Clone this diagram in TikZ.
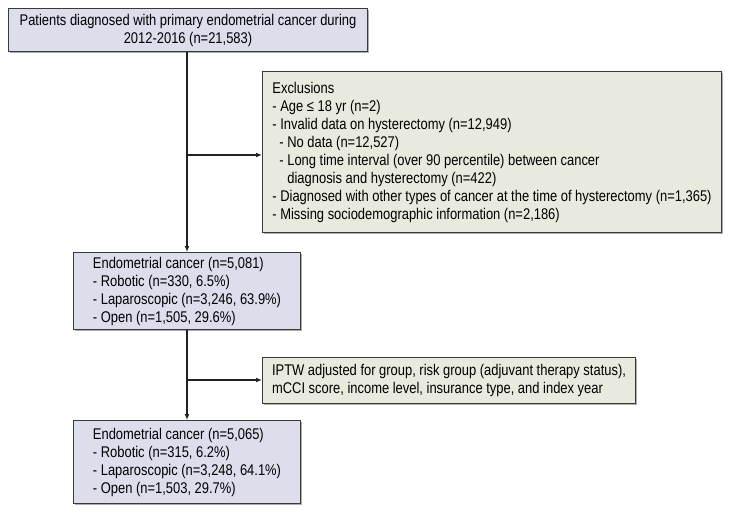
\documentclass[tikz,border=0pt]{standalone}
\usepackage{fontspec}
\setmainfont{Liberation Sans}[FakeStretch=0.835]
\usetikzlibrary{arrows.meta,shadows}
\definecolor{boxblue}{HTML}{DCDEEC}
\definecolor{boxgreen}{HTML}{E7EADC}
\definecolor{edge}{HTML}{3A3A3A}
\definecolor{linec}{HTML}{222222}
\begin{document}
\begin{tikzpicture}[x=1pt,y=-1pt,
  base/.style={draw=edge, line width=1pt, anchor=north west, inner sep=0pt,
    font=\fontsize{15.5}{18}\selectfont,
    drop shadow={shadow xshift=1.2pt, shadow yshift=-1.2pt, fill=black!40, opacity=0.8}},
  bluebox/.style={base, fill=boxblue},
  greenbox/.style={base, fill=boxgreen},
  conn/.style={draw=linec, line width=1.3pt},
  arr/.style={conn, -{Latex[length=6pt,width=5pt]}}
]
\useasboundingbox (0,0) rectangle (729,511);
\node[bluebox, align=center, minimum width=359pt, minimum height=43pt] (b1) at (8,8)
  {Patients diagnosed with primary endometrial cancer during\\2012-2016 (n=21,583)};
\node[greenbox, align=left, minimum width=459pt, minimum height=161pt] (ex) at (262,71)
  {Exclusions\\
   - Age ≤ 18 yr (n=2)\\
   - Invalid data on hysterectomy (n=12,949)\\
   \hspace*{7pt}- No data (n=12,527)\\
   \hspace*{7pt}- Long time interval (over 90 percentile) between cancer\\
   \hspace*{15pt}diagnosis and hysterectomy (n=422)\\
   - Diagnosed with other types of cancer at the time of hysterectomy (n=1,365)\\
   - Missing sociodemographic information (n=2,186)};
\node[bluebox, align=left, minimum width=227pt, minimum height=77pt] (b2) at (73,252)
  {Endometrial cancer (n=5,081)\\
   - Robotic (n=330, 6.5\%)\\
   - Laparoscopic (n=3,246, 63.9\%)\\
   - Open (n=1,505, 29.6\%)};
\node[greenbox, align=left, minimum width=373pt, minimum height=46pt] (ip) at (262,357)
  {IPTW adjusted for group, risk group (adjuvant therapy status),\\
   mCCI score, income level, insurance type, and index year};
\node[bluebox, align=left, minimum width=227pt, minimum height=83pt] (b3) at (73,420)
  {Endometrial cancer (n=5,065)\\
   - Robotic (n=315, 6.2\%)\\
   - Laparoscopic (n=3,248, 64.1\%)\\
   - Open (n=1,503, 29.7\%)};
\coordinate (t1) at (187,0);
\coordinate (j1) at (187,155);
\coordinate (j2) at (187,380);
\draw[arr] (t1 |- b1.south) -- (t1 |- b2.north);
\draw[arr] (j1) -- (j1 -| ex.west);
\draw[arr] (t1 |- b2.south) -- (t1 |- b3.north);
\draw[arr] (j2) -- (j2 -| ip.west);
\end{tikzpicture}
\end{document}
